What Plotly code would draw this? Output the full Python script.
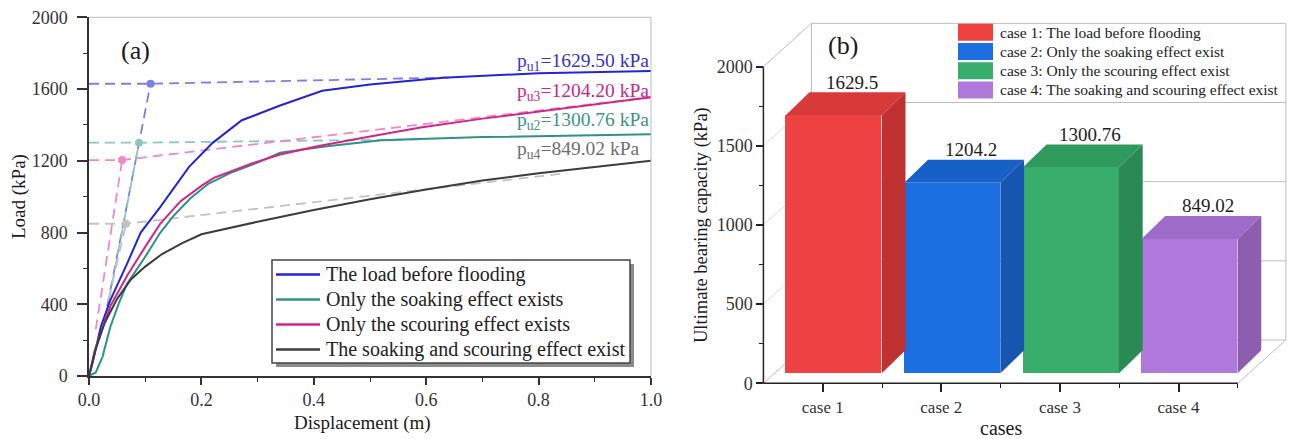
import plotly.graph_objects as go

W, H = 1294, 439
SERIF = "Liberation Serif"


def px_x(p):
    return p / W


def px_y(p):
    return (H - p) / H


# ---------------- (a) load-displacement curves ----------------
series_names = [
    "The load before flooding",
    "Only the soaking effect exists",
    "Only the scouring effect exists",
    "The soaking and scouring effect exist",
]

before_x = [0, 0.006, 0.021, 0.038, 0.068, 0.092, 0.127, 0.178, 0.22, 0.272, 0.34, 0.415, 0.5, 0.63, 0.8, 1.0]
before_y = [0, 70, 275, 423, 628, 800, 943, 1166, 1300, 1426, 1508, 1590, 1625, 1663, 1688, 1700]

soaking_x = [0, 0.012, 0.024, 0.038, 0.053, 0.068, 0.097, 0.127, 0.151, 0.18, 0.213, 0.25, 0.3, 0.34, 0.42, 0.52, 0.7, 1.0]
soaking_y = [0, 20, 107, 275, 405, 516, 650, 800, 895, 990, 1073, 1130, 1190, 1245, 1280, 1315, 1332, 1348]

scouring_x = [0, 0.01, 0.038, 0.068, 0.1, 0.127, 0.163, 0.2, 0.222, 0.29, 0.34, 0.404, 0.5, 0.59, 0.7, 0.85, 1.0]
scouring_y = [0, 140, 390, 560, 720, 850, 975, 1060, 1105, 1185, 1235, 1280, 1335, 1385, 1435, 1495, 1554]

both_x = [0, 0.012, 0.027, 0.05, 0.075, 0.1, 0.13, 0.165, 0.2, 0.3, 0.4, 0.5, 0.6, 0.7, 0.8, 0.9, 1.0]
both_y = [0, 150, 290, 430, 540, 610, 680, 740, 790, 860, 925, 985, 1040, 1090, 1130, 1165, 1200]

# ultimate bearing capacity from the two-tangent construction (same order as series_names)
pu_labels = ["p<sub>u1</sub>=1629.50 kPa", "p<sub>u2</sub>=1300.76 kPa",
             "p<sub>u3</sub>=1204.20 kPa", "p<sub>u4</sub>=849.02 kPa"]
pu_values = [1629.50, 1300.76, 1204.20, 849.02]
pu_disp = [0.1095, 0.089, 0.059, 0.066]
# initial tangent: lower end point
init_tan_x = [0.027, 0.030, 0.012, 0.035]
init_tan_y = [300, 330, 260, 430]
# final tangent: far end point
final_tan_x = [0.64, 0.60, 1.0, 0.85]
final_tan_y = [1664, 1320, 1555, 1131]

curves_x = [before_x, soaking_x, scouring_x, both_x]
curves_y = [before_y, soaking_y, scouring_y, both_y]
curve_colors = ["#2424D4", "#2F9284", "#D2248A", "#3C3C3C"]
dash_colors = ["#7E7EEA", "#8CC6BE", "#EE88C6", "#C2C2C2"]
label_colors = ["#3535C8", "#3A9488", "#C8288A", "#6E6E6E"]

# ---------------- (b) ultimate bearing capacity bars ----------------
cases = ["case 1", "case 2", "case 3", "case 4"]
capacity = [1629.5, 1204.2, 1300.76, 849.02]
capacity_text = ["1629.5", "1204.2", "1300.76", "849.02"]
case_legend = [
    "case 1: The load before flooding",
    "case 2: Only the soaking effect exist",
    "case 3: Only the scouring effect exist",
    "case 4: The soaking and scouring effect exist",
]
front_colors = ["#EE4141", "#1B6FE0", "#39AD6B", "#B078DB"]
top_colors = ["#D83A3A", "#1660C8", "#2F9A5D", "#9E6BC8"]
side_colors = ["#C03232", "#1656B0", "#2A8A54", "#8C5EB0"]

fig = go.Figure()

# dashed tangent lines and their intersection points
for i in range(4):
    fig.add_trace(go.Scatter(
        x=[init_tan_x[i], pu_disp[i]], y=[init_tan_y[i], pu_values[i]],
        mode="lines", line=dict(color=dash_colors[i], width=1.8, dash="10px,6px"),
        showlegend=False, hoverinfo="skip", xaxis="x", yaxis="y"))
    fig.add_trace(go.Scatter(
        x=[0, pu_disp[i], final_tan_x[i]], y=[pu_values[i], pu_values[i], final_tan_y[i]],
        mode="lines", line=dict(color=dash_colors[i], width=1.8, dash="10px,6px"),
        showlegend=False, hoverinfo="skip", xaxis="x", yaxis="y"))
for i in range(4):
    fig.add_trace(go.Scatter(
        x=[pu_disp[i]], y=[pu_values[i]], mode="markers",
        marker=dict(color=dash_colors[i], size=8),
        showlegend=False, hoverinfo="skip", xaxis="x", yaxis="y"))

# measured curves
for i in range(4):
    fig.add_trace(go.Scatter(
        x=curves_x[i], y=curves_y[i], mode="lines", name=series_names[i],
        line=dict(color=curve_colors[i], width=2), showlegend=False,
        xaxis="x", yaxis="y"))

annotations = []
label_y = [1751, 1422, 1584, 1259]
label_x = [1.0, 1.0, 1.0, 0.982]
for i in range(4):
    annotations.append(dict(
        x=label_x[i], y=label_y[i], xref="x", yref="y", xanchor="right", yanchor="middle",
        text=pu_labels[i], showarrow=False,
        font=dict(family=SERIF, size=19.5, color=label_colors[i])))

shapes = []

# legend box of panel (a) with drop shadow
LEG_L, LEG_R, LEG_T, LEG_B = 272, 630, 260, 363
shapes.append(dict(type="rect", xref="paper", yref="paper",
                   x0=px_x(LEG_L + 4), x1=px_x(LEG_R + 4), y0=px_y(LEG_B + 4), y1=px_y(LEG_T + 4),
                   fillcolor="#8C8C8C", line=dict(width=0)))
shapes.append(dict(type="rect", xref="paper", yref="paper",
                   x0=px_x(LEG_L), x1=px_x(LEG_R), y0=px_y(LEG_B), y1=px_y(LEG_T),
                   fillcolor="white", line=dict(color="#444", width=1.5)))
for i in range(4):
    yc = 274.5 + 25 * i
    shapes.append(dict(type="line", xref="paper", yref="paper",
                       x0=px_x(276), x1=px_x(320), y0=px_y(yc), y1=px_y(yc),
                       line=dict(color=curve_colors[i], width=2.5)))
    annotations.append(dict(x=px_x(324), y=px_y(yc), xref="paper", yref="paper",
                            xanchor="left", yanchor="middle", text=series_names[i],
                            showarrow=False, font=dict(family=SERIF, size=20, color="#222")))

# ---- 3-D bars ----
# oblique projection of the box depth (in axis units) and the bar placement inside it
BOX_DX, BOX_DY = 0.405, 273.5
BAR_FRONT_DX, BAR_FRONT_DY = 0.093, 63.0
BAR_DEPTH_DX, BAR_DEPTH_DY = 0.2, 145.0
BAR_HALF = 0.405

xc = [1, 2, 3, 4]
fig.add_trace(go.Bar(
    x=xc, y=capacity, base=BAR_FRONT_DY, width=2 * BAR_HALF,
    offset=-BAR_HALF + BAR_FRONT_DX,
    marker=dict(color=front_colors, line=dict(width=0)),
    showlegend=False, hoverinfo="skip", xaxis="x2", yaxis="y2"))

for i, (c, v) in enumerate(zip(xc, capacity)):
    x0 = c - BAR_HALF + BAR_FRONT_DX
    x1 = c + BAR_HALF + BAR_FRONT_DX
    y0 = BAR_FRONT_DY
    y1 = BAR_FRONT_DY + v
    # top face
    fig.add_trace(go.Scatter(
        x=[x0, x1, x1 + BAR_DEPTH_DX, x0 + BAR_DEPTH_DX, x0],
        y=[y1, y1, y1 + BAR_DEPTH_DY, y1 + BAR_DEPTH_DY, y1],
        mode="lines", fill="toself", fillcolor=top_colors[i], line=dict(width=0),
        showlegend=False, hoverinfo="skip", xaxis="x2", yaxis="y2"))
    # side face
    fig.add_trace(go.Scatter(
        x=[x1, x1 + BAR_DEPTH_DX, x1 + BAR_DEPTH_DX, x1, x1],
        y=[y0, y0 + BAR_DEPTH_DY, y1 + BAR_DEPTH_DY, y1, y0],
        mode="lines", fill="toself", fillcolor=side_colors[i], line=dict(width=0),
        showlegend=False, hoverinfo="skip", xaxis="x2", yaxis="y2"))
    annotations.append(dict(
        x=c + 0.25, y=y1 + BAR_DEPTH_DY + 63, xref="x2", yref="y2",
        xanchor="center", yanchor="middle", text=capacity_text[i], showarrow=False,
        font=dict(family=SERIF, size=19, color="#1e1e1e")))

GRID = "#BDBDBD"
# back wall, its grid lines and the left-wall / floor diagonals
shapes.append(dict(type="rect", xref="x2", yref="y2", layer="below",
                   x0=0.5 + BOX_DX, x1=4.5 + BOX_DX, y0=BOX_DY, y1=2000 + BOX_DY,
                   line=dict(color=GRID, width=1)))
for v in [500, 1000, 1500]:
    shapes.append(dict(type="line", xref="x2", yref="y2", layer="below",
                       x0=0.5 + BOX_DX, x1=4.5 + BOX_DX, y0=v + BOX_DY, y1=v + BOX_DY,
                       line=dict(color=GRID, width=1)))
for v in [0, 500, 1000, 1500, 2000]:
    shapes.append(dict(type="line", xref="x2", yref="y2", layer="below",
                       x0=0.5, x1=0.5 + BOX_DX, y0=v, y1=v + BOX_DY,
                       line=dict(color=GRID if v in (0, 2000) else "#DCDCDC", width=1)))
shapes.append(dict(type="line", xref="x2", yref="y2", layer="below",
                   x0=4.5, x1=4.5 + BOX_DX, y0=0, y1=BOX_DY,
                   line=dict(color=GRID, width=1)))
# axis lines of the bar chart
shapes.append(dict(type="line", xref="x2", yref="y2", x0=0.5, x1=0.5, y0=0, y1=2000,
                   line=dict(color="#222", width=1.5)))
shapes.append(dict(type="line", xref="x2", yref="y2", x0=0.5, x1=4.5, y0=0, y1=0,
                   line=dict(color="#222", width=1.5)))

# light frame on top/right of panel (a)
shapes.append(dict(type="line", xref="x domain", yref="y domain", x0=0, x1=1, y0=1, y1=1,
                   line=dict(color="#BBBBBB", width=1)))
shapes.append(dict(type="line", xref="x domain", yref="y domain", x0=1, x1=1, y0=0, y1=1,
                   line=dict(color="#BBBBBB", width=1)))

# legend of panel (b)
for i in range(4):
    yc = 32.3 + 19.2 * i
    shapes.append(dict(type="rect", xref="paper", yref="paper",
                       x0=px_x(958), x1=px_x(993), y0=px_y(yc + 8.5), y1=px_y(yc - 8.5),
                       fillcolor=front_colors[i], line=dict(width=0)))
    annotations.append(dict(x=px_x(998), y=px_y(yc), xref="paper", yref="paper",
                            xanchor="left", yanchor="middle", text=case_legend[i],
                            showarrow=False, font=dict(family=SERIF, size=15.5, color="#222")))

# panel tags and axis titles
def paper_text(x, y, text, size, angle=0):
    return dict(x=px_x(x), y=px_y(y), xref="paper", yref="paper", text=text,
                xanchor="center", yanchor="middle", textangle=angle, showarrow=False,
                font=dict(family=SERIF, size=size, color="#1a1a1a"))


annotations += [
    paper_text(135, 50, "(a)", 26),
    paper_text(843, 45, "(b)", 26),
    paper_text(19, 197, "Load (kPa)", 19, -90),
    paper_text(362, 423, "Displacement (m)", 19),
    paper_text(701, 225, "Ultimate bearing capacity (kPa)", 18.5, -90),
    paper_text(1001, 428, "cases", 20),
]

# right-panel axis geometry: 118.6 px per case, 0.15833 px per kPa
X2_LO, X2_HI = 0.44, 4.95
Y2_LO, Y2_HI = -50, 2300
x2_left = 763.4 - (0.5 - X2_LO) * 118.6
x2_right = 763.4 + (X2_HI - 0.5) * 118.6
y2_bottom = 383.3 - Y2_LO * 0.15833
y2_top = 383.3 - Y2_HI * 0.15833

tickfont = dict(family=SERIF, size=18, color="#333")
fig.update_layout(
    width=W, height=H, margin=dict(l=0, r=0, t=0, b=0, autoexpand=False),
    paper_bgcolor="white", plot_bgcolor="rgba(0,0,0,0)",
    showlegend=False,
    xaxis=dict(domain=[px_x(89), px_x(651)], range=[0, 1], anchor="y", automargin=False,
               showgrid=False, zeroline=False, showline=True, linecolor="#333", linewidth=1.5,
               ticks="outside", ticklen=7, tickwidth=1.5, tickcolor="#333",
               tickvals=[0, 0.2, 0.4, 0.6, 0.8, 1.0],
               ticktext=["0.0", "0.2", "0.4", "0.6", "0.8", "1.0"],
               minor=dict(tickvals=[0.1, 0.3, 0.5, 0.7, 0.9], ticks="outside", ticklen=4,
                          tickwidth=1.2, tickcolor="#333"),
               tickfont=tickfont),
    yaxis=dict(domain=[px_y(376), px_y(17.3)], range=[0, 2000], anchor="x", automargin=False,
               showgrid=False, zeroline=False, showline=True, linecolor="#333", linewidth=1.5,
               ticks="outside", ticklen=10, tickwidth=1.5, tickcolor="#333",
               ticklabelstandoff=6,
               tickvals=[0, 400, 800, 1200, 1600, 2000],
               minor=dict(tickvals=[200, 600, 1000, 1400, 1800], ticks="outside", ticklen=4,
                          tickwidth=1.2, tickcolor="#333"),
               tickfont=tickfont),
    xaxis2=dict(domain=[px_x(x2_left), px_x(x2_right)], range=[X2_LO, X2_HI],
                anchor="free", position=px_y(383.3), automargin=False,
                showgrid=False, zeroline=False, showline=False,
                ticks="outside", ticklen=8, tickwidth=1.5, tickcolor="#222",
                tickvals=xc, ticktext=cases,
                minor=dict(tickvals=[1.5, 2.5, 3.5, 4.5], ticks="outside", ticklen=4,
                           tickwidth=1.2, tickcolor="#222"),
                tickfont=dict(family=SERIF, size=17, color="#333")),
    yaxis2=dict(domain=[px_y(y2_bottom), px_y(y2_top)], range=[Y2_LO, Y2_HI],
                anchor="free", position=px_x(763.4), automargin=False,
                showgrid=False, zeroline=False, showline=False,
                ticks="outside", ticklen=7, tickwidth=1.5, tickcolor="#222",
                tickvals=[0, 500, 1000, 1500, 2000],
                minor=dict(tickvals=[250, 750, 1250, 1750], ticks="outside", ticklen=4,
                           tickwidth=1.2, tickcolor="#222"),
                tickfont=dict(family=SERIF, size=18, color="#333")),
    bargap=0,
    shapes=shapes,
    annotations=annotations,
)

fig.write_html("out.html")
